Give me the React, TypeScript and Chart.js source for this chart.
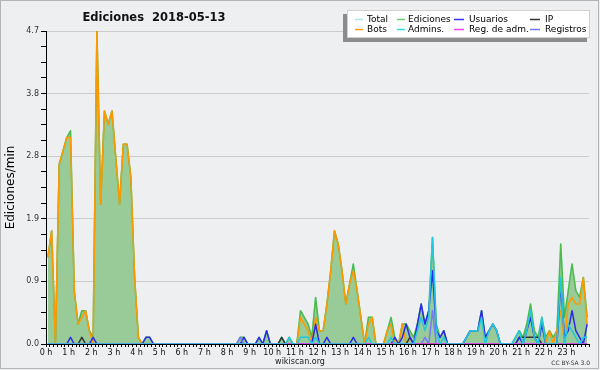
import { useEffect, useRef } from 'react';
import { Chart, registerables } from 'chart.js';

Chart.register(...registerables);

// 10-minute slots over the day (144 slots), values in edits per minute
const hourLabels = ['0 h', '1 h', '2 h', '3 h', '4 h', '5 h', '6 h', '7 h', '8 h', '9 h', '10 h', '11 h',
  '12 h', '13 h', '14 h', '15 h', '16 h', '17 h', '18 h', '19 h', '20 h', '21 h', '22 h', '23 h'];
const yTickLabels = ['0.0', '0.9', '1.9', '2.8', '3.8', '4.7'];
const yMax = 4.7;
const yMinorDivisions = 20;
const slotsPerDay = 144;

const ediciones = [
  1.3, 1.7, 0, 2.7, 2.9, 3.1, 3.2, 0.8, 0.3, 0.5, 0.5, 0.2,
  0.1, 4.7, 2.1, 3.5, 3.3, 3.5, 2.8, 2.1, 3.0, 3.0, 2.5, 1.0,
  0.1, 0, 0.1, 0.1, 0, 0, 0, 0, 0, 0, 0, 0,
  0, 0, 0, 0, 0, 0, 0, 0, 0, 0, 0, 0,
  0, 0, 0, 0.1, 0.1, 0, 0, 0, 0.1, 0, 0.2, 0,
  0, 0, 0.1, 0, 0.1, 0, 0, 0.5, 0.4, 0.3, 0.1, 0.7,
  0.2, 0.2, 0.6, 1.1, 1.7, 1.5, 1.1, 0.6, 0.9, 1.2, 0.8, 0.4,
  0, 0.4, 0.4, 0, 0, 0, 0.2, 0.4, 0.1, 0, 0.3, 0.3,
  0.2, 0.1, 0.3, 0.6, 0.3, 0.5, 1.6, 0.3, 0.1, 0.2, 0, 0,
  0, 0, 0, 0.1, 0.2, 0.2, 0.2, 0.5, 0.1, 0.2, 0.3, 0.2,
  0, 0, 0, 0, 0.1, 0.2, 0.1, 0.3, 0.6, 0.2, 0.1, 0.4,
  0.1, 0.2, 0.1, 0.2, 1.5, 0.4, 0.8, 1.2, 0.8, 0.7, 1.0, 0.4,
];

const total = [
  1.3, 1.7, 0, 2.7, 2.9, 3.1, 3.2, 0.8, 0.3, 0.5, 0.5, 0.2,
  0.1, 4.7, 2.1, 3.5, 3.3, 3.5, 2.8, 2.1, 3.0, 3.0, 2.5, 1.0,
  0.1, 0, 0.1, 0.1, 0, 0, 0, 0, 0, 0, 0, 0,
  0, 0, 0, 0, 0, 0, 0, 0, 0, 0, 0, 0,
  0, 0, 0, 0.1, 0.1, 0, 0, 0, 0.1, 0, 0.2, 0,
  0, 0, 0.1, 0, 0.1, 0, 0, 0.5, 0.4, 0.3, 0.1, 0.7,
  0.2, 0.2, 0.6, 1.1, 1.7, 1.5, 1.1, 0.6, 0.9, 1.2, 0.8, 0.4,
  0, 0.4, 0.4, 0, 0, 0, 0.2, 0.4, 0.1, 0, 0.3, 0.3,
  0.2, 0.1, 0.3, 0.6, 0.3, 0.5, 1.6, 0.3, 0.1, 0.2, 0, 0,
  0, 0, 0, 0.1, 0.2, 0.2, 0.2, 0.5, 0.1, 0.2, 0.3, 0.2,
  0, 0, 0, 0, 0.1, 0.2, 0.1, 0.3, 0.6, 0.2, 0.1, 0.4,
  0.1, 0.2, 0.1, 0.2, 1.5, 0.4, 0.8, 1.2, 0.8, 0.7, 1.0, 0.4,
];

const bots = [
  1.3, 1.7, 0, 2.7, 2.9, 3.1, 3.1, 0.8, 0.3, 0.4, 0.5, 0.2,
  0, 4.7, 2.1, 3.5, 3.3, 3.5, 2.8, 2.1, 3.0, 3.0, 2.5, 1.0,
  0.1, 0, 0, 0, 0, 0, 0, 0, 0, 0, 0, 0,
  0, 0, 0, 0, 0, 0, 0, 0, 0, 0, 0, 0,
  0, 0, 0, 0, 0, 0, 0, 0, 0, 0, 0, 0,
  0, 0, 0, 0, 0, 0, 0, 0.4, 0.3, 0.2, 0, 0.4,
  0.2, 0.2, 0.6, 1.1, 1.7, 1.5, 1.1, 0.6, 0.9, 1.1, 0.8, 0.4,
  0, 0.3, 0.4, 0, 0, 0, 0.2, 0.3, 0, 0, 0.3, 0,
  0.1, 0, 0, 0, 0, 0, 0, 0, 0, 0, 0, 0,
  0, 0, 0, 0, 0, 0, 0, 0, 0, 0, 0, 0,
  0, 0, 0, 0, 0, 0, 0, 0, 0, 0, 0, 0,
  0, 0.2, 0, 0.2, 0.5, 0, 0.6, 0.7, 0.6, 0.6, 1.0, 0.3,
];

const usuarios = [
  0, 0, 0, 0, 0, 0, 0.1, 0, 0, 0, 0, 0,
  0.1, 0, 0, 0, 0, 0, 0, 0, 0, 0, 0, 0,
  0, 0, 0.1, 0.1, 0, 0, 0, 0, 0, 0, 0, 0,
  0, 0, 0, 0, 0, 0, 0, 0, 0, 0, 0, 0,
  0, 0, 0, 0, 0.1, 0, 0, 0, 0.1, 0, 0.2, 0,
  0, 0, 0, 0, 0, 0, 0, 0, 0, 0, 0, 0.3,
  0, 0, 0.1, 0, 0, 0, 0, 0, 0, 0.1, 0, 0,
  0, 0, 0, 0, 0, 0, 0, 0, 0.1, 0, 0.1, 0.3,
  0.1, 0, 0.3, 0.6, 0.3, 0.5, 1.1, 0.2, 0.1, 0.2, 0, 0,
  0, 0, 0, 0.1, 0.2, 0.2, 0.2, 0.5, 0.1, 0.2, 0.3, 0.2,
  0, 0, 0, 0, 0, 0.1, 0, 0.2, 0.4, 0.1, 0, 0.3,
  0, 0, 0, 0, 0.9, 0.1, 0.2, 0.5, 0.2, 0.1, 0, 0.3,
];

const ip = [
  0, 0, 0, 0, 0, 0, 0, 0, 0, 0.1, 0, 0,
  0, 0, 0, 0, 0, 0, 0, 0, 0, 0, 0, 0,
  0, 0, 0, 0, 0, 0, 0, 0, 0, 0, 0, 0,
  0, 0, 0, 0, 0, 0, 0, 0, 0, 0, 0, 0,
  0, 0, 0, 0, 0, 0, 0, 0, 0, 0, 0, 0,
  0, 0, 0.1, 0, 0, 0, 0, 0, 0, 0, 0, 0,
  0, 0, 0, 0, 0, 0, 0, 0, 0, 0, 0, 0,
  0, 0, 0, 0, 0, 0, 0, 0, 0, 0, 0, 0,
  0.1, 0, 0, 0, 0, 0, 0, 0, 0, 0, 0, 0,
  0, 0, 0, 0, 0, 0, 0, 0, 0, 0, 0, 0,
  0, 0, 0, 0, 0, 0.1, 0.1, 0.1, 0.1, 0.1, 0.1, 0,
  0, 0, 0, 0, 0, 0, 0, 0, 0, 0, 0, 0,
];

const admins = [
  0, 0, 0, 0, 0, 0, 0, 0, 0, 0, 0, 0,
  0, 0, 0, 0, 0, 0, 0, 0, 0, 0, 0, 0,
  0, 0, 0, 0, 0, 0, 0, 0, 0, 0, 0, 0,
  0, 0, 0, 0, 0, 0, 0, 0, 0, 0, 0, 0,
  0, 0, 0, 0, 0, 0, 0, 0, 0, 0, 0, 0,
  0, 0, 0, 0, 0.1, 0, 0, 0.1, 0.1, 0.1, 0, 0.1,
  0, 0, 0, 0, 0, 0, 0, 0, 0, 0, 0, 0,
  0, 0.1, 0, 0, 0, 0, 0, 0.1, 0, 0, 0, 0,
  0, 0, 0.2, 0.4, 0.2, 0.4, 1.6, 0.2, 0, 0.1, 0, 0,
  0, 0, 0, 0.1, 0.2, 0.2, 0.2, 0.4, 0, 0.2, 0.3, 0.2,
  0, 0, 0, 0, 0.1, 0.2, 0, 0.2, 0.5, 0.1, 0, 0.4,
  0, 0, 0, 0, 1.0, 0, 0.3, 0.2, 0.1, 0, 0.1, 0.1,
];

const regAdm = [
  0, 0, 0, 0, 0, 0, 0, 0, 0, 0, 0, 0,
  0, 0, 0, 0, 0, 0, 0, 0, 0, 0, 0, 0,
  0, 0, 0, 0, 0, 0, 0, 0, 0, 0, 0, 0,
  0, 0, 0, 0, 0, 0, 0, 0, 0, 0, 0, 0,
  0, 0, 0, 0, 0, 0, 0, 0, 0, 0, 0, 0,
  0, 0, 0, 0, 0, 0, 0, 0, 0, 0, 0, 0,
  0, 0, 0, 0, 0, 0, 0, 0, 0, 0, 0, 0,
  0, 0, 0, 0, 0, 0, 0, 0, 0, 0, 0, 0,
  0, 0, 0, 0, 0, 0, 0, 0, 0, 0, 0, 0,
  0, 0, 0, 0, 0, 0, 0, 0, 0, 0, 0, 0,
  0, 0, 0, 0, 0, 0, 0, 0, 0, 0, 0, 0,
  0, 0, 0, 0, 0, 0, 0, 0, 0, 0, 0, 0,
];

const registros = [
  0, 0, 0, 0, 0, 0, 0, 0, 0, 0, 0, 0,
  0, 0, 0, 0, 0, 0, 0, 0, 0, 0, 0, 0,
  0, 0, 0, 0, 0, 0, 0, 0, 0, 0, 0, 0,
  0, 0, 0, 0, 0, 0, 0, 0, 0, 0, 0, 0,
  0, 0, 0, 0.1, 0, 0, 0, 0, 0, 0, 0, 0,
  0, 0, 0, 0, 0, 0, 0, 0, 0, 0, 0, 0,
  0, 0, 0, 0, 0, 0, 0, 0, 0, 0, 0, 0,
  0, 0, 0, 0, 0, 0, 0, 0, 0, 0, 0, 0,
  0, 0, 0, 0, 0.1, 0, 0.5, 0, 0, 0, 0, 0,
  0, 0, 0, 0, 0, 0, 0, 0, 0, 0, 0, 0,
  0, 0, 0, 0, 0, 0, 0, 0, 0, 0, 0, 0,
  0, 0, 0, 0, 0, 0, 0, 0, 0, 0, 0, 0,
];

const FONT = 'DejaVu Sans';

const toPoints = (arr: number[]) => arr.map((v, i) => ({ x: i + 0.5, y: v }));

const chromePlugin = {
  id: 'wikiscanChrome',
  beforeDraw(chart: any) {
    const { ctx, width, height } = chart;
    ctx.save();
    ctx.fillStyle = '#eeeff1';
    ctx.fillRect(0, 0, width, height);
    ctx.strokeStyle = '#b4b4b4';
    ctx.lineWidth = 1;
    ctx.strokeRect(0.5, 0.5, width - 2, height - 2);
    ctx.restore();
  },
  afterDraw(chart: any) {
    const { ctx } = chart;
    ctx.save();
    // title
    ctx.fillStyle = '#111';
    ctx.font = `bold 11.5px "${FONT}"`;
    ctx.textAlign = 'center';
    ctx.textBaseline = 'alphabetic';
    ctx.fillText('Ediciones  2018-05-13', 154, 20.5);
    // footer
    ctx.font = `8px "${FONT}"`;
    ctx.fillStyle = '#222';
    ctx.fillText('wikiscan.org', 300, 364);
    ctx.font = `6px "${FONT}"`;
    ctx.textAlign = 'right';
    ctx.fillStyle = '#333';
    ctx.fillText('CC BY-SA 3.0', 590, 364.5);

    // legend box
    ctx.fillStyle = '#8c8c8c';
    ctx.fillRect(343, 14, 244, 28);
    ctx.fillStyle = '#ffffff';
    ctx.fillRect(347, 10, 243, 28);
    ctx.strokeStyle = '#d0d0d0';
    ctx.lineWidth = 1;
    ctx.strokeRect(347.5, 10.5, 242, 27);
    const markStart = [355, 397, 454, 530];
    const markEnd = [363, 405, 464, 540];
    const textX = [367, 408, 469, 545];
    const rowY = [19.5, 29.5];
    ctx.font = `9px "${FONT}"`;
    ctx.textAlign = 'left';
    ctx.textBaseline = 'middle';
    chart.data.datasets.forEach((ds: any, k: number) => {
      const c = k % 4;
      const r = Math.floor(k / 4);
      ctx.strokeStyle = ds.legendColor || ds.borderColor;
      ctx.lineWidth = 1.5;
      ctx.beginPath();
      ctx.moveTo(markStart[c], rowY[r]);
      ctx.lineTo(markEnd[c], rowY[r]);
      ctx.stroke();
      ctx.fillStyle = '#000';
      ctx.fillText(ds.label, textX[c], rowY[r] + 0.5);
    });
    ctx.restore();
  },
};

export default function App() {
  const ref = useRef<HTMLCanvasElement | null>(null);

  useEffect(() => {
    document.body.style.margin = '0';
    if (!ref.current) return;
    const line = (label: string, data: number[], color: string, order: number, extra: any = {}) => ({
      label,
      data: toPoints(data),
      borderColor: color,
      backgroundColor: color,
      borderWidth: 1.5,
      pointRadius: 0,
      tension: 0,
      fill: false,
      order,
      borderJoinStyle: 'round',
      ...extra,
    });
    const chart = new Chart(ref.current, {
      type: 'line',
      data: {
        datasets: [
          line('Total', total, '#a8e8e8', 8),
          line('Ediciones', ediciones, '#4cbb4c', 7, { fill: 'origin', backgroundColor: '#98cb98', legendColor: '#66cc66' }),
          line('Usuarios', usuarios, '#2a2aee', 4, { legendColor: '#3333ff' }),
          line('IP', ip, '#333333', 5),
          line('Bots', bots, '#ff9900', 6),
          line('Admins.', admins, '#22c8e0', 1, { legendColor: '#33dddd' }),
          line('Reg. de adm.', regAdm, '#ee44ee', 2),
          line('Registros', registros, '#7777ff', 3),
        ] as any,
      },
      options: {
        responsive: false,
        devicePixelRatio: 1,
        animation: false,
        events: [],
        layout: { padding: { top: 31, right: 11, left: 0, bottom: 0 } },
        plugins: {
          legend: { display: false },
          title: { display: false },
          tooltip: { enabled: false },
        },
        scales: {
          x: {
            type: 'linear',
            min: 0,
            max: slotsPerDay,
            afterBuildTicks: (s: any) => {
              s.ticks = Array.from({ length: slotsPerDay + 1 }, (_, k) => ({ value: k }));
            },
            afterFit: (s: any) => {
              s.height = 26;
            },
            ticks: {
              autoSkip: false,
              maxRotation: 0,
              minRotation: 0,
              padding: 1,
              color: '#111',
              font: { family: FONT, size: 8 },
              callback: (v: any) => (v % 6 === 0 && v < slotsPerDay ? hourLabels[v / 6] : ''),
            },
            grid: {
              drawOnChartArea: false,
              drawTicks: true,
              tickLength: 3,
              tickColor: '#000',
              color: '#000',
            },
            border: { display: true, color: '#000', width: 1 },
          },
          y: {
            type: 'linear',
            min: 0,
            max: yMax,
            afterBuildTicks: (s: any) => {
              s.ticks = Array.from({ length: yMinorDivisions + 1 }, (_, k) => ({ value: (k * yMax) / yMinorDivisions }));
            },
            afterFit: (s: any) => {
              s.width = 46;
            },
            ticks: {
              autoSkip: false,
              padding: 2,
              color: '#333',
              font: { family: FONT, size: 8 },
              callback: (_v: any, idx: number) => (idx % 4 === 0 ? yTickLabels[idx / 4] : ''),
            },
            grid: {
              color: (c: any) => (c.index % 4 === 0 ? '#cccccc' : 'rgba(0,0,0,0)'),
              tickColor: '#000',
              tickLength: 5,
              drawTicks: true,
            },
            border: { display: true, color: '#000', width: 1 },
            title: {
              display: true,
              text: 'Ediciones/min',
              color: '#000',
              font: { family: FONT, size: 12 },
              padding: { top: 4, bottom: 0 },
            },
          },
        },
      } as any,
      plugins: [chromePlugin],
    });
    return () => chart.destroy();
  }, []);

  return (
    <div style={{ width: 600, height: 370 }}>
      <canvas ref={ref} width={600} height={370} style={{ display: 'block' }} />
    </div>
  );
}
